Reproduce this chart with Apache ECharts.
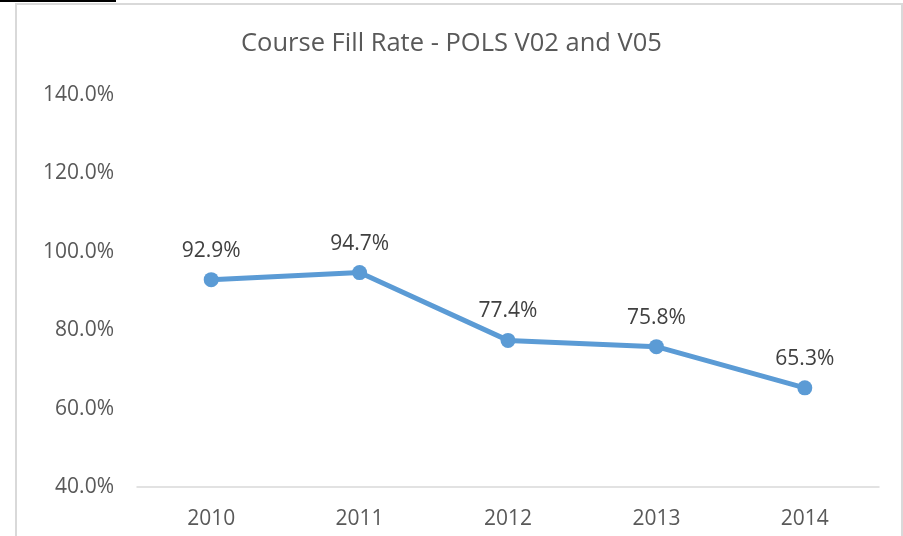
<!DOCTYPE html>
<html>
<head>
<meta charset="utf-8">
<script src="https://cdn.jsdelivr.net/npm/echarts@6/dist/echarts.min.js"></script>
<style>
  body { margin: 0; background: #fff; }
  #main { position: absolute; left: 0; top: 0; width: 903px; height: 536px; }
  #frame { position: absolute; left: 15px; top: 3px; width: 884px; height: 540px; border: 2px solid #d9d9d9; pointer-events: none; }
  #mark { position: absolute; left: 0; top: 0; width: 116px; height: 2px; background: #000; }
</style>
</head>
<body>
<div id="main"></div>
<div id="frame"></div>
<div id="mark"></div>
<script>
var years = ['2010', '2011', '2012', '2013', '2014'];
var fillRate = [92.9, 94.7, 77.4, 75.8, 65.3];
var yTicks = [40, 60, 80, 100, 120, 140];

var font = '"Open Sans", sans-serif';

var option = {
    animation: false,
    title: {
        text: 'Course Fill Rate - POLS V02 and V05',
        left: 'center',
        top: 26,
        textStyle: { fontFamily: font, fontSize: 25.5, fontWeight: 'normal', color: '#595959' }
    },
    grid: { left: 137, right: 24, top: 95, bottom: 49 },
    xAxis: {
        type: 'category',
        data: years,
        boundaryGap: true,
        axisLine: { lineStyle: { color: '#d9d9d9', width: 1.5 } },
        axisTick: { show: false },
        axisLabel: { fontFamily: font, fontSize: 21, color: '#595959', margin: 22 }
    },
    yAxis: {
        type: 'value',
        min: yTicks[0],
        max: yTicks[yTicks.length - 1],
        interval: 20,
        axisLine: { show: false },
        axisTick: { show: false },
        splitLine: { show: false },
        axisLabel: {
            fontFamily: font, fontSize: 21, color: '#595959', margin: 23,
            formatter: function (v) { return v.toFixed(1) + '%'; }
        }
    },
    series: [{
        type: 'line',
        data: fillRate,
        symbol: 'circle',
        symbolSize: 15,
        lineStyle: { color: '#5b9bd5', width: 5 },
        itemStyle: { color: '#5b9bd5' },
        label: {
            show: true,
            position: 'top',
            distance: 11,
            fontFamily: font,
            fontSize: 21,
            color: '#404040',
            formatter: function (p) { return p.value.toFixed(1) + '%'; }
        }
    }]
};

echarts.init(document.getElementById('main')).setOption(option);
</script>
</body>
</html>
